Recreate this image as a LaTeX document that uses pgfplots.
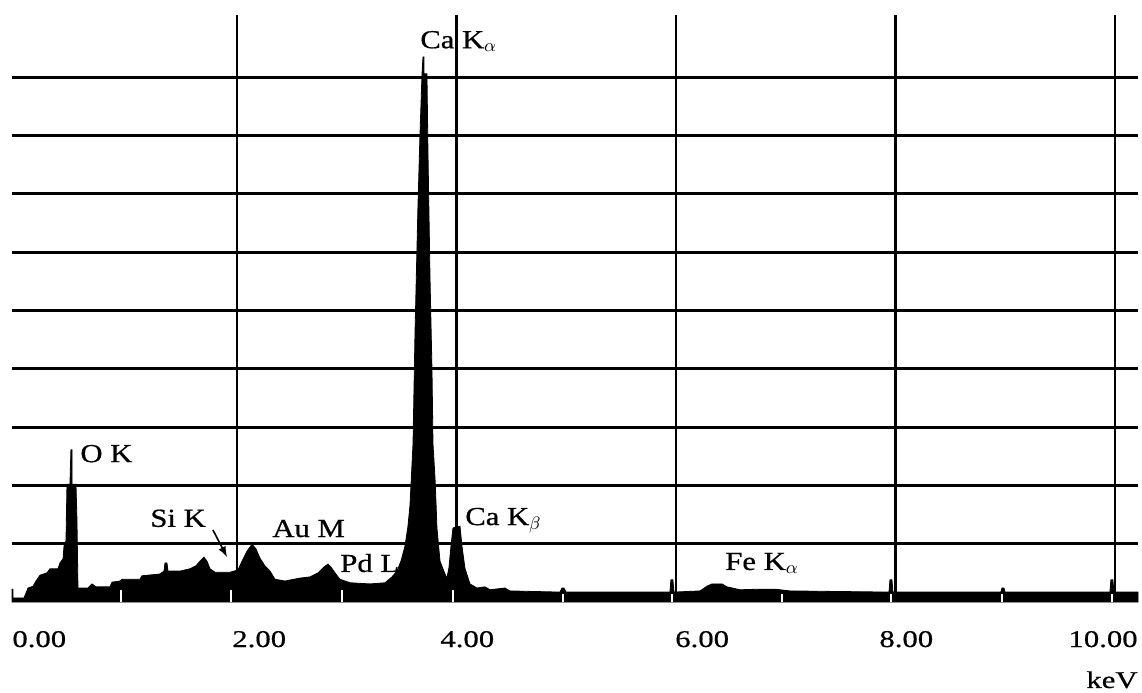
\documentclass[border=0pt]{standalone}
\usepackage{fontspec}
\setmainfont{Liberation Serif}
\newfontfamily\tickfont[FakeStretch=1.28, FakeBold=0.6]{Liberation Serif}
\newfontfamily\labfont[FakeStretch=1.18, FakeBold=0.6]{Liberation Serif}
\usepackage{pgfplots}
\pgfplotsset{compat=1.18}
\begin{document}
\begin{tikzpicture}
\path[use as bounding box] (-6pt,-45pt) rectangle (565pt,301pt);
\begin{axis}[
  at={(0,0)}, anchor=south west,
  scale only axis, width=563pt, height=293.5pt,
  xmin=-0.05, xmax=10.21, ymin=0, ymax=10.07,
  xtick={2,4,6,8,10}, ytick={1,2,3,4,5,6,7,8,9},
  xticklabels={}, yticklabels={},
  major tick length=0pt,
  axis line style={draw=none},
  grid=major,
  every axis x grid/.append style={black, line width=1.1pt},
  every axis y grid/.append style={black, line width=1.5pt},
  axis on top,
  clip=false,
]
\addplot[fill=black, draw=black, line width=0.4pt] coordinates {
(-0.050,0) (-0.050,0.22) (-0.041,0.22) (-0.041,0.07) (0.059,0.07) (0.077,0.15)
(0.096,0.24) (0.141,0.27) (0.169,0.36) (0.205,0.46) (0.269,0.50) (0.296,0.57)
(0.369,0.57) (0.387,0.67) (0.415,0.74) (0.424,0.96) (0.442,1.05) (0.451,2.02)
(0.478,2.02) (0.487,2.61) (0.497,2.61) (0.497,2.02) (0.533,2.02) (0.542,1.39)
(0.551,0.24) (0.642,0.24) (0.679,0.31) (0.715,0.26) (0.843,0.26) (0.861,0.34)
(0.934,0.36) (0.952,0.39) (1.116,0.39) (1.134,0.45) (1.298,0.48) (1.335,0.53)
(1.344,0.67) (1.362,0.67) (1.371,0.53) (1.481,0.53) (1.572,0.57) (1.626,0.62)
(1.663,0.70) (1.699,0.77) (1.727,0.70) (1.754,0.57) (1.800,0.51) (1.936,0.51)
(2.009,0.55) (2.046,0.70) (2.091,0.87) (2.137,0.99) (2.173,0.91) (2.210,0.75)
(2.255,0.62) (2.301,0.53) (2.346,0.39) (2.437,0.36) (2.574,0.41) (2.665,0.43)
(2.738,0.50) (2.793,0.60) (2.829,0.65) (2.856,0.60) (2.893,0.50) (2.938,0.39)
(3.030,0.33) (3.212,0.31) (3.349,0.33) (3.412,0.43) (3.458,0.53) (3.494,0.70)
(3.531,0.96) (3.558,1.30) (3.576,1.65) (3.604,2.71) (3.622,4.60) (3.649,6.79)
(3.667,7.99) (3.686,9.06) (3.695,9.35) (3.704,9.35) (3.704,9.06) (3.731,9.06)
(3.740,7.74) (3.759,5.54) (3.777,3.96) (3.786,2.71) (3.804,2.14) (3.813,1.73)
(3.822,1.27) (3.850,0.70) (3.895,0.48) (3.913,0.41) (3.931,0.58) (3.950,0.96)
(3.968,1.27) (4.032,1.30) (4.050,0.96) (4.077,0.58) (4.123,0.31) (4.187,0.24)
(4.260,0.26) (4.305,0.21) (4.442,0.24) (4.487,0.19) (4.943,0.17) (4.961,0.24)
(4.979,0.24) (4.998,0.17) (5.945,0.17) (5.954,0.38) (5.972,0.38) (5.982,0.17)
(6.219,0.19) (6.282,0.27) (6.328,0.31) (6.419,0.31) (6.465,0.26) (6.583,0.21)
(6.765,0.22) (6.902,0.22) (7.038,0.19) (7.941,0.17) (7.950,0.38) (7.968,0.38)
(7.977,0.17) (8.961,0.17) (8.970,0.24) (8.989,0.24) (8.998,0.17) (9.954,0.17)
(9.963,0.38) (9.981,0.38) (9.991,0.17) (10.210,0.17)
} \closedcycle;
\addplot[ycomb, draw=white, line width=0.9pt] coordinates {
(0.943,0.20) (1.945,0.20) (2.957,0.20) (3.968,0.20) (4.970,0.14)
(5.964,0.14) (6.966,0.14) (7.959,0.14) (8.970,0.14) (9.973,0.14)
};
% peak labels
\node[anchor=base west, inner sep=0pt, font=\labfont\fontsize{13}{15}\selectfont] at (axis cs:3.667,9.50) {Ca K$_\alpha$};
\node[anchor=base west, inner sep=0pt, font=\labfont\fontsize{13}{15}\selectfont] at (axis cs:0.570,2.40) {O K};
\node[anchor=base west, inner sep=0pt, font=\labfont\fontsize{13}{15}\selectfont] at (axis cs:1.207,1.29) {Si K};
\node[anchor=base west, inner sep=0pt, font=\labfont\fontsize{13}{15}\selectfont] at (axis cs:2.319,1.115) {Au M};
\node[anchor=base west, inner sep=0pt, font=\labfont\fontsize{13}{15}\selectfont] at (axis cs:2.938,0.515) {Pd L};
\node[anchor=base west, inner sep=0pt, font=\labfont\fontsize{13}{15}\selectfont] at (axis cs:4.077,1.32) {Ca K$_\beta$};
\node[anchor=base west, inner sep=0pt, font=\labfont\fontsize{13}{15}\selectfont] at (axis cs:6.446,0.55) {Fe K$_\alpha$};
\draw[-latex, line width=0.8pt] (axis cs:1.781,1.235) -- (axis cs:1.909,0.772);
% tick labels
\node[anchor=base west, inner sep=0pt, font=\tickfont\fontsize{12}{14}\selectfont] at (axis cs:-0.050,-0.772) {0.00};
\node[anchor=base west, inner sep=0pt, font=\tickfont\fontsize{12}{14}\selectfont] at (axis cs:1.954,-0.772) {2.00};
\node[anchor=base west, inner sep=0pt, font=\tickfont\fontsize{12}{14}\selectfont] at (axis cs:3.850,-0.772) {4.00};
\node[anchor=base west, inner sep=0pt, font=\tickfont\fontsize{12}{14}\selectfont] at (axis cs:5.990,-0.772) {6.00};
\node[anchor=base west, inner sep=0pt, font=\tickfont\fontsize{12}{14}\selectfont] at (axis cs:7.850,-0.772) {8.00};
\node[anchor=base east, inner sep=0pt, font=\tickfont\fontsize{12}{14}\selectfont] at (axis cs:10.210,-0.772) {10.00};
\node[anchor=base east, inner sep=0pt, font=\tickfont\fontsize{12}{14}\selectfont] at (axis cs:10.210,-1.475) {keV};
\end{axis}
\end{tikzpicture}
\end{document}
